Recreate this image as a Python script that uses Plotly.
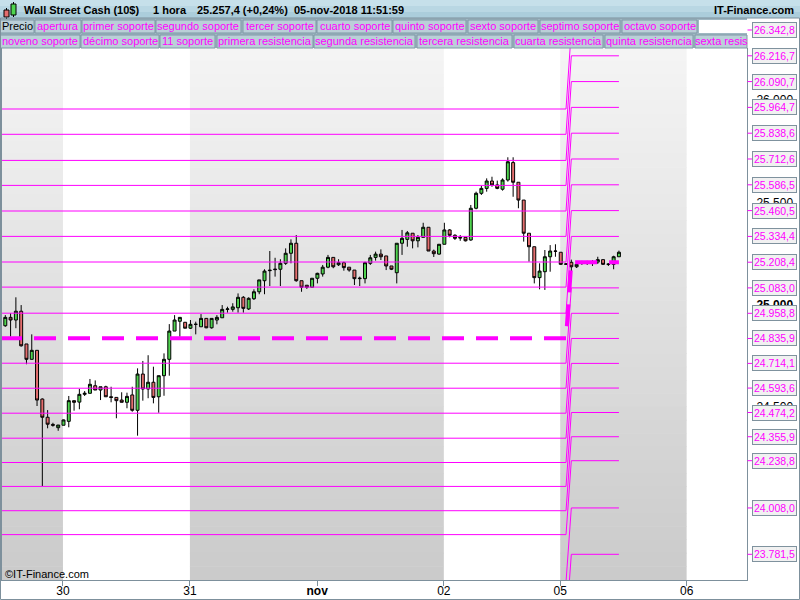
import plotly.graph_objects as go

# ---------------- data ----------------
day_labels = ["30", "31", "<b>nov</b>", "02", "05", "06"]
day_tick_pos = [11.9, 35.9, 59.95, 83.9, 105.9, 129.8]
shaded_ranges = [(0.376, 11.9), (35.9, 83.9), (105.9, 129.8)]

open_ = [24898, 24939, 24926, 24969, 24809, 24734, 24778, 24540, 24451, 24416,
         24400, 24412, 24431, 24532, 24525, 24563, 24568, 24605, 24584, 24600,
         24551, 24548, 24535, 24524, 24560, 24485, 24662, 24589, 24622, 24551,
         24654, 24734, 24872, 24920, 24915, 24886, 24905, 24893, 24934, 24888,
         24926, 24937, 24978, 24978, 24986, 25037, 24980, 25030, 25064, 25118,
         25167, 25172, 25174, 25203, 25252, 25301, 25118, 25096, 25086, 25130,
         25151, 25184, 25232, 25196, 25206, 25184, 25170, 25128, 25128, 25203,
         25232, 25248, 25239, 25190, 25157, 25301, 25320, 25350, 25313, 25330,
         25379, 25263, 25248, 25296, 25366, 25340, 25330, 25330, 25317, 25472,
         25545, 25569, 25605, 25586, 25565, 25610, 25695, 25599, 25512, 25350,
         25284, 25133, 25162, 25235, 25263, 25257, 25198, 25208, 25186, 25206,
         25206, 25209, 25209, 25221, 25198, 25198, 25235]
high_ = [24950, 24959, 25037, 24999, 24809, 24856, 24778, 24543, 24486, 24424,
         24413, 24440, 24555, 24532, 24590, 24579, 24638, 24631, 24600, 24605,
         24600, 24548, 24573, 24571, 24600, 24690, 24726, 24754, 24698, 24654,
         24763, 24906, 24950, 24939, 24915, 24926, 24918, 24955, 24934, 24934,
         24950, 24999, 24991, 25008, 25056, 25043, 25037, 25076, 25122, 25174,
         25263, 25230, 25223, 25276, 25320, 25341, 25118, 25096, 25130, 25157,
         25195, 25244, 25232, 25223, 25211, 25184, 25170, 25138, 25211, 25244,
         25260, 25271, 25239, 25190, 25301, 25366, 25361, 25350, 25341, 25401,
         25379, 25270, 25296, 25401, 25370, 25345, 25341, 25330, 25488, 25553,
         25581, 25618, 25626, 25607, 25618, 25721, 25721, 25599, 25512, 25350,
         25284, 25203, 25268, 25292, 25296, 25257, 25203, 25221, 25200, 25215,
         25215, 25219, 25235, 25221, 25203, 25240, 25265]
low_ = [24893, 24845, 24886, 24796, 24710, 24734, 24506, 24115, 24397, 24405,
        24385, 24412, 24402, 24483, 24490, 24555, 24568, 24584, 24535, 24551,
        24524, 24446, 24524, 24495, 24478, 24361, 24532, 24544, 24519, 24473,
        24556, 24654, 24872, 24844, 24886, 24882, 24856, 24893, 24886, 24884,
        24905, 24937, 24962, 24967, 24962, 24962, 24975, 25024, 25052, 25052,
        25092, 25138, 25092, 25195, 25203, 25113, 25064, 25078, 25086, 25105,
        25138, 25179, 25179, 25190, 25167, 25162, 25097, 25092, 25105, 25195,
        25216, 25219, 25170, 25170, 25105, 25244, 25284, 25276, 25281, 25330,
        25263, 25234, 25245, 25296, 25330, 25317, 25313, 25310, 25313, 25467,
        25537, 25553, 25577, 25565, 25558, 25602, 25528, 25472, 25309, 25211,
        25105, 25076, 25073, 25162, 25235, 25195, 25195, 25165, 25180, 25195,
        25195, 25190, 25200, 25195, 25190, 25174, 25235]
close_ = [24939, 24926, 24969, 24800, 24734, 24778, 24535, 24451, 24417, 24412,
          24413, 24438, 24532, 24524, 24563, 24568, 24612, 24584, 24600, 24551,
          24548, 24532, 24524, 24553, 24485, 24662, 24589, 24622, 24548, 24654,
          24734, 24872, 24926, 24939, 24886, 24905, 24905, 24934, 24888, 24934,
          24939, 24978, 24980, 24990, 25037, 24983, 25032, 25064, 25122, 25165,
          25169, 25174, 25203, 25252, 25301, 25118, 25086, 25086, 25130, 25154,
          25184, 25232, 25186, 25206, 25182, 25170, 25128, 25130, 25206, 25230,
          25248, 25235, 25190, 25174, 25301, 25325, 25352, 25313, 25330, 25379,
          25263, 25250, 25296, 25366, 25340, 25325, 25327, 25313, 25472, 25545,
          25569, 25605, 25586, 25569, 25610, 25699, 25599, 25512, 25350, 25284,
          25133, 25165, 25235, 25263, 25262, 25198, 25200, 25186, 25198, 25206,
          25207, 25209, 25221, 25198, 25199, 25235, 25257]
bars = list(range(1, len(close_) + 1))

# pivot levels: previous week (old) and current week (new)
apertura_old, apertura_new = 24837.2, 25208.4
support_old = [24715.0, 24592.9, 24470.8, 24348.7, 24230.0, 24113.2, 23994.5, 23877.7, 23647.0, 23420.0, 23190.0]
support_new = [25083.0, 24958.8, 24835.9, 24714.1, 24593.6, 24474.2, 24355.9, 24238.8, 24008.0, 23781.5, 23555.0]
resist_old = [24959.3, 25086.8, 25209.4, 25334.5, 25458.5, 25583.6, 25705.7, 25833.2, 25956.8]
resist_new = [25334.4, 25460.5, 25586.5, 25712.6, 25838.6, 25964.7, 26090.7, 26216.7, 26342.8]
level_switch_bar = 108   # first bar of the new week levels

legend_row1 = ["Precio", "apertura", "primer soporte", "segundo soporte", "tercer soporte",
               "cuarto soporte", "quinto soporte", "sexto soporte", "septimo soporte", "octavo soporte"]
legend_row2 = ["noveno soporte", "décimo soporte", "11 soporte", "primera resistencia",
               "segunda resistencia", "tercera resistencia", "cuarta resistencia",
               "quinta resistencia", "sexta resis"]

# ---------------- geometry helpers ----------------
W, H = 800, 600
ML, MR, MT, MB = 2, 53, 48, 20
PW, PH = W - ML - MR, H - MT - MB
Y0, Y1 = 23656.0, 26254.8
X0, X1 = 0.376, 141.21
FONT = "Liberation Sans, Arial, sans-serif"
MAG = "#ff00ff"
FRAME = "#7d909c"


def xp(px):
    return (px - ML) / PW


def yp(py):
    return (H - MB - py) / PH


def vy(v):
    return (v - Y0) / (Y1 - Y0)


def fmt(v):
    return f"{v:,.1f}".replace(",", "X").replace(".", ",").replace("X", ".")


fig = go.Figure()

fig.add_trace(go.Candlestick(
    x=bars, open=open_, high=high_, low=low_, close=close_,
    increasing=dict(fillcolor="#4fd44f", line=dict(color="black", width=1)),
    decreasing=dict(fillcolor="#e46e6e", line=dict(color="black", width=1)),
    whiskerwidth=0, showlegend=False, hoverinfo="skip"))

last_bar = bars[-1]


def level_trace(old, new, width=1, dash=None):
    xs = [0, level_switch_bar - 1, level_switch_bar, last_bar]
    ys = [old, old, new, new]
    line = dict(color=MAG, width=width)
    if dash:
        line["dash"] = dash
    return go.Scatter(x=xs, y=ys, mode="lines", line=line, showlegend=False, hoverinfo="skip")


for o, n in zip(support_old, support_new):
    fig.add_trace(level_trace(o, n))
for o, n in zip(resist_old, resist_new):
    fig.add_trace(level_trace(o, n))
fig.add_trace(level_trace(apertura_old, apertura_new, width=4, dash="22px,12px"))

shapes = []
annotations = []

# gradient day bands
NS = 40
for (a, b) in shaded_ranges:
    for i in range(NS):
        t = (i + 0.5) / NS
        c = int(round(245 - (245 - 202) * t))
        shapes.append(dict(type="rect", xref="x", yref="paper", x0=a, x1=b,
                           y0=1 - (i + 1) / NS, y1=1 - i / NS + 0.001,
                           fillcolor=f"rgb({c},{c},{c})", line=dict(width=0), layer="below"))

# title bar
for i, col in enumerate(["#c6e0ea", "#b9d7e3", "#abcddb"]):
    shapes.append(dict(type="rect", xref="paper", yref="paper", x0=xp(0), x1=xp(800),
                       y0=yp(6 * (i + 1)), y1=yp(6 * i), fillcolor=col, line=dict(width=0)))
# legend rows background
shapes.append(dict(type="rect", xref="paper", yref="paper", x0=xp(0), x1=xp(747),
                   y0=yp(48), y1=yp(18), fillcolor="#9fb7c2", line=dict(width=0)))
shapes.append(dict(type="rect", xref="paper", yref="paper", x0=xp(747), x1=xp(800),
                   y0=yp(48), y1=yp(18), fillcolor="white", line=dict(width=0)))

row1_x = [(0, 34), (35, 81), (82, 155), (156, 241), (243, 316), (317, 392), (393, 466),
          (468, 538), (540, 620), (622, 697)]
row2_x = [(0, 80), (81, 159), (160, 215), (217, 313), (314, 415), (417, 512), (514, 603),
          (605, 693), (695, 747)]
for row, xs, (ya, yb) in [(legend_row1, row1_x, (20, 33)), (legend_row2, row2_x, (35, 48))]:
    for name, (a, b) in zip(row, xs):
        shapes.append(dict(type="rect", xref="paper", yref="paper", x0=xp(a), x1=xp(b),
                           y0=yp(yb), y1=yp(ya), fillcolor="#bacfd8",
                           line=dict(color="#7e98a5", width=1)))
        annotations.append(dict(text=name, xref="paper", yref="paper", x=xp((a + b) / 2),
                                y=yp((ya + yb) / 2), showarrow=False, xanchor="center",
                                yanchor="middle",
                                font=dict(family=FONT, size=11, color="black" if name == "Precio" else MAG)))
shapes.append(dict(type="rect", xref="paper", yref="paper", x0=xp(699), x1=xp(747),
                   y0=yp(33), y1=yp(20), fillcolor="white", line=dict(width=0)))

# small candle icon
shapes += [
    dict(type="line", xref="paper", yref="paper", x0=xp(6.5), x1=xp(6.5), y0=yp(19), y1=yp(8), line=dict(color="black", width=1)),
    dict(type="rect", xref="paper", yref="paper", x0=xp(4), x1=xp(9), y0=yp(17), y1=yp(10), fillcolor="#e46e6e", line=dict(color="black", width=1)),
    dict(type="line", xref="paper", yref="paper", x0=xp(13.5), x1=xp(13.5), y0=yp(17), y1=yp(2), line=dict(color="black", width=1)),
    dict(type="rect", xref="paper", yref="paper", x0=xp(11), x1=xp(16), y0=yp(15), y1=yp(4), fillcolor="#4fd44f", line=dict(color="black", width=1)),
]

# header texts
for txt, px in [("Wall Street Cash (10$)", 22), ("1 hora", 151), ("25.257,4 (+0,24%)", 195),
                ("05-nov-2018 11:51:59", 292)]:
    annotations.append(dict(text="<b>" + txt + "</b>", xref="paper", yref="paper", x=xp(px), y=yp(10),
                            xanchor="left", yanchor="middle", showarrow=False,
                            font=dict(family=FONT, size=11, color="black")))
annotations.append(dict(text="<b>IT-Finance.com</b>", xref="paper", yref="paper", x=xp(796), y=yp(10),
                        xanchor="right", yanchor="middle", showarrow=False,
                        font=dict(family=FONT, size=11, color="black")))
annotations.append(dict(text="©IT-Finance.com", xref="paper", yref="paper", x=xp(3), y=yp(574),
                        xanchor="left", yanchor="middle", showarrow=False,
                        font=dict(family=FONT, size=11, color="black")))

# right-hand level labels
label_vals = resist_new[::-1] + [apertura_new] + support_new[:10]
for v in label_vals:
    shapes.append(dict(type="line", xref="paper", yref="paper", x0=xp(747.5), x1=xp(752),
                       y0=vy(v), y1=vy(v), line=dict(color=MAG, width=1)))
    annotations.append(dict(text=fmt(v), xref="paper", yref="paper", x=xp(752), y=vy(v),
                            xanchor="left", yanchor="middle", showarrow=False,
                            bgcolor="#f1f1f1", bordercolor="#7f929e", borderwidth=1, borderpad=1,
                            font=dict(family=FONT, size=10.5, color=MAG)))

# outer frame
shapes.append(dict(type="rect", xref="paper", yref="paper", x0=xp(0.5), x1=xp(799.5),
                   y0=yp(599.5), y1=yp(18), line=dict(color=FRAME, width=1)))

fig.update_layout(
    width=W, height=H, margin=dict(l=ML, r=MR, t=MT, b=MB, autoexpand=False),
    paper_bgcolor="white", plot_bgcolor="white", boxgap=0.2,
    shapes=shapes, annotations=annotations, showlegend=False,
    font=dict(family=FONT, size=12, color="black"),
    xaxis=dict(range=[X0, X1], showgrid=False, zeroline=False, tickvals=day_tick_pos,
               ticktext=day_labels, ticks="outside", ticklen=5, tickcolor=FRAME,
               ticklabelstandoff=-5,
               showline=True, linecolor=FRAME, mirror=True, rangeslider=dict(visible=False),
               automargin=False, tickfont=dict(family=FONT, size=12, color="black")),
    yaxis=dict(range=[Y0, Y1], side="right", showgrid=False, zeroline=False,
               tickvals=[24500, 25000, 25500, 26000],
               ticktext=["24.500", "<b>25.000</b>", "25.500", "26.000"],
               ticks="outside", ticklen=6, tickcolor="rgba(0,0,0,0)",
               showline=True, linecolor=FRAME, mirror=True, automargin=False,
               tickfont=dict(family=FONT, size=12, color="black")),
)

fig.write_html("out.html", config={"displayModeBar": False},
               post_script="document.body.style.margin='0px';document.body.style.overflow='hidden';")
